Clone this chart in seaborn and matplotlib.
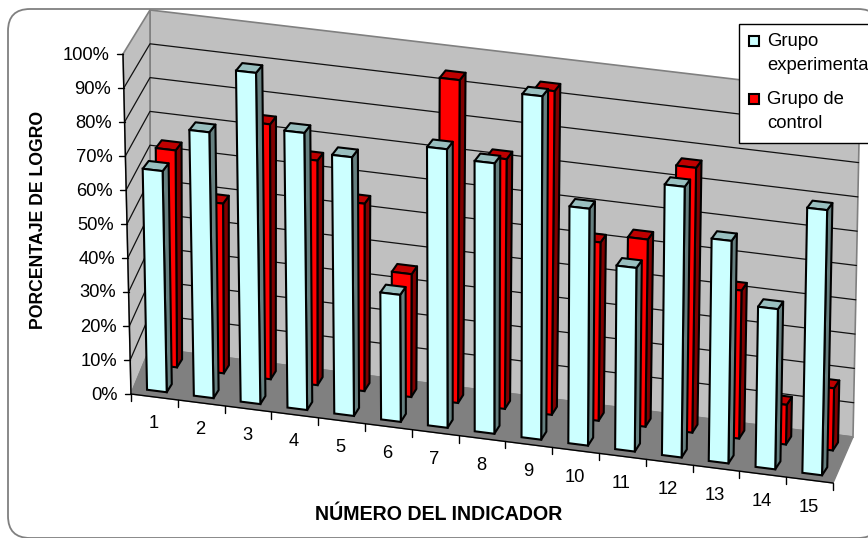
"""Logro por indicador: barras 3D al estilo Excel, grupo experimental y de control."""

import matplotlib

matplotlib.use("Agg")

import matplotlib.pyplot as plt
import numpy as np
import pandas as pd
import seaborn as sns
from matplotlib.patches import FancyBboxPatch, Polygon, Rectangle
from matplotlib.transforms import Transform

INDICADORES = [str(i) for i in range(1, 16)]
EXPERIMENTAL = [65, 78, 97, 81, 75.5, 37, 81, 78.5, 99.5, 68.5, 53, 78, 64, 46, 76]
CONTROL = [64, 50, 75, 66, 55, 36, 94.5, 73, 94.5, 52, 54.5, 77, 43, 11.5, 18]
Y_TICKS = list(range(0, 101, 10))
LEGEND_LINES = [("Grupo", "experimental"), ("Grupo de", "control")]

CYAN = ["#CCFFFF", "#668080", "#99BFBF"]
RED = ["#FF0000", "#800000", "#BF0000"]
DEPTHS = {"exp": (0.13, 0.31), "ctl": (0.67, 0.85)}
FAR_SHIFT = 0.035  # la cara trasera se corre un poco a la derecha

# Esquinas de la caja 3D en pixeles: suelo y techo (frente-izq, frente-der, fondo-izq, fondo-der)
FLOOR = np.array([[131, 394], [833, 483], [150, 348], [853, 437]], dtype=float)
ROOF = np.array([[123, 54], [840, 133], [150, 10], [860, 94]], dtype=float)


def project(u, d, z):
    """Map (indicator position, depth 0-1, percent) to pixel coordinates."""
    u, d, z = np.broadcast_arrays(np.asarray(u, float), np.asarray(d, float), np.asarray(z, float))
    s = u[..., None] / 15
    t = d[..., None]
    h = z[..., None] / 100

    def blend(c):
        return (1 - t) * ((1 - s) * c[0] + s * c[1]) + t * ((1 - s) * c[2] + s * c[3])

    return (1 - h) * blend(FLOOR) + h * blend(ROOF)


class DepthPlane(Transform):
    """Send categorical bar coordinates onto a plane at a fixed depth."""

    input_dims = 2
    output_dims = 2

    def __init__(self, plane_depth):
        super().__init__()
        self.plane_depth = plane_depth

    def transform_non_affine(self, values):
        values = np.asarray(values, float)
        return project(values[:, 0] + 0.5, self.plane_depth, values[:, 1])


sns.set_theme(style="white")
plt.rcParams["font.family"] = ["Liberation Sans", "DejaVu Sans"]

fig = plt.figure(figsize=(8.68, 5.38), dpi=100)
ax = fig.add_axes([0, 0, 1, 1])

df = pd.DataFrame(
    {
        "indicador": INDICADORES * 2,
        "logro": EXPERIMENTAL + CONTROL,
        "grupo": ["exp"] * 15 + ["ctl"] * 15,
    }
)
sns.barplot(
    data=df,
    x="indicador",
    y="logro",
    hue="grupo",
    hue_order=["exp", "ctl"],
    palette={"exp": CYAN[0], "ctl": RED[0]},
    dodge=False,
    width=0.42,
    legend=False,
    edgecolor="black",
    linewidth=1.5,
    saturation=1,
    ax=ax,
)
ax.set_xlim(0, 868)
ax.set_ylim(538, 0)
ax.set_axis_off()

# Marco redondeado del grafico
ax.add_patch(
    FancyBboxPatch(
        (30, 31), 828, 485, boxstyle="round,pad=22,rounding_size=22",
        facecolor="white", edgecolor="#808080", linewidth=1.3, zorder=0,
    )
)

# Paredes y suelo
wall = dict(facecolor="#C0C0C0", edgecolor="#808080", linewidth=1.2, zorder=1)
ax.add_patch(Polygon(project([0, 15, 15, 0], 1, [0, 0, 100, 100]), **wall))
ax.add_patch(Polygon(project(0, [0, 1, 1, 0], [0, 0, 100, 100]), **wall))
ax.add_patch(Polygon(project([0, 15, 15, 0], [0, 0, 1, 1], 0), facecolor="#808080", edgecolor="#808080", zorder=1))

for tick in Y_TICKS:
    if 0 < tick < 100:
        ax.plot(*project([0, 0, 15], [0, 1, 1], tick).T, color="#111111", linewidth=0.9, zorder=1.5)
    x, y = project(0, 0, tick)
    ax.plot([x - 6, x], [y, y], color="black", linewidth=1, zorder=2)
    ax.text(x - 13, y + 1, f"{tick}%", ha="right", va="center", fontsize=13.2, color="black")

# Ejes frontales y marcas
ax.plot(*project([0, 0], 0, [0, 100]).T, color="black", linewidth=1, zorder=2)
ax.plot(*project([0, 15], 0, 0).T, color="black", linewidth=1, zorder=2)
for pos in range(16):
    x, y = project(pos, 0, 0)
    ax.plot([x, x], [y, y + 7], color="black", linewidth=1, zorder=2)
for pos, label in enumerate(INDICADORES):
    x, y = project(pos + 0.5, 0, 0)
    ax.text(x - 1, y + 27, label, ha="center", va="center", fontsize=13.2, color="black")

# Barras: la cara frontal viene de seaborn, los lados se anaden con la misma proyeccion
for container, key, colors, level in zip(ax.containers, ["exp", "ctl"], [CYAN, RED], [4, 3]):
    near, far = DEPTHS[key]
    for rect in container:
        left = rect.get_x() + 0.5
        right = left + rect.get_width()
        value = rect.get_height()
        rect.set_transform(DepthPlane(near) + ax.transData)
        rect.set_zorder(level + 0.2)
        style = dict(edgecolor="black", linewidth=1.5, joinstyle="round")
        ax.add_patch(
            Polygon(
                project(
                    [right, right + FAR_SHIFT, right + FAR_SHIFT, right],
                    [near, far, far, near],
                    [0, 0, value, value],
                ),
                facecolor=colors[1], zorder=level, **style,
            )
        )
        ax.add_patch(
            Polygon(
                project(
                    [left, right, right + FAR_SHIFT, left + FAR_SHIFT],
                    [near, near, far, far],
                    value,
                ),
                facecolor=colors[2], zorder=level, **style,
            )
        )

# Leyenda a mano: el cuadro se sale por la derecha igual que en el original
ax.add_patch(Rectangle((739, 24), 140, 119, facecolor="white", edgecolor="black", linewidth=1, zorder=6))
for (first, second), color, top in zip(LEGEND_LINES, [CYAN[0], RED[0]], [40, 98]):
    ax.add_patch(Rectangle((749, top - 4), 10, 10, facecolor=color, edgecolor="black", linewidth=1.5, zorder=7))
    ax.text(767, top + 1.5, first, va="center", fontsize=13.3, color="black", zorder=7)
    ax.text(767, top + 26, second, va="center", fontsize=13.3, color="black", zorder=7)

ax.text(39, 220, "PORCENTAJE DE LOGRO", rotation=90, ha="center", va="center",
        fontsize=12.7, fontweight="bold", color="black")
ax.text(439, 514, "NÚMERO DEL INDICADOR", ha="center", va="center",
        fontsize=14.1, fontweight="bold", color="black")

fig.savefig("out.png", dpi=100)
plt.close(fig)
